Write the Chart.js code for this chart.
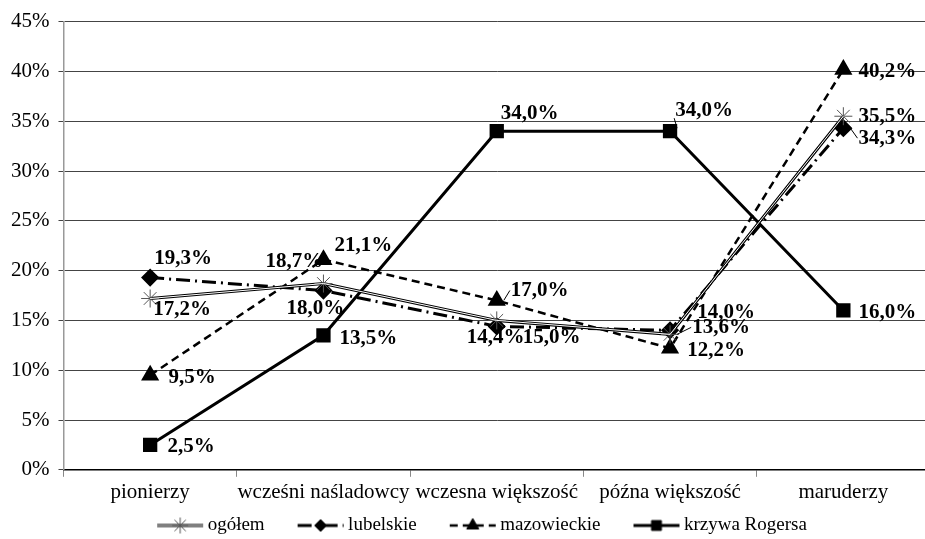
<!DOCTYPE html>
<html lang="pl">
<head>
    <meta charset="UTF-8">
    <title>Krzywa Rogersa</title>
    <script src="https://cdn.jsdelivr.net/npm/chart.js"></script>
    <style>
        body {
            margin: 0;
            background: #fff;
            overflow: hidden;
        }
        canvas {
            display: block;
        }
    </style>
</head>
<body>
    <canvas id="chart" width="941" height="545"></canvas>

    <script>
        const categories = ['pionierzy', 'wcześni naśladowcy', 'wczesna większość', 'późna większość', 'maruderzy'];
        const yTicks = [0, 5, 10, 15, 20, 25, 30, 35, 40, 45];

        const ogolem = [17.2, 18.7, 15.0, 13.6, 35.5];
        const lubelskie = [19.3, 18.0, 14.4, 14.0, 34.3];
        const mazowieckie = [9.5, 21.1, 17.0, 12.2, 40.2];
        const rogers = [2.5, 13.5, 34.0, 34.0, 16.0];

        // where each value label sits relative to its point: [dx, dy, leader line]
        const labelPos = {
            'ogółem': [[32, 11], [-29, -22], [55, 17], [51, -7, true], [44, 0]],
            'lubelskie': [[33, -19], [-8, 18], [-1, 11], [56, -18], [44, 10, true]],
            'mazowieckie': [[42, 2], [40, -14], [43, -10, true], [46, 2], [44, 2]],
            'krzywa Rogersa': [[41, 2], [45, 3], [33, -18], [34, -21, true], [44, 2]]
        };

        const serif = "'Liberation Serif', 'Times New Roman', serif";

        const series = [
            { label: 'ogółem', data: ogolem, borderColor: '#000', borderWidth: 3, borderDash: [],
              pointStyle: 'star', pointRadius: 9, pointBorderColor: '#555', pointBorderWidth: 1, order: 1 },
            { label: 'lubelskie', data: lubelskie, borderColor: '#000', borderWidth: 3, borderDash: [14, 5, 2, 5],
              pointStyle: 'rectRot', pointRadius: 7, pointBorderColor: '#000', pointBackgroundColor: '#000', order: 2 },
            { label: 'mazowieckie', data: mazowieckie, borderColor: '#000', borderWidth: 2.5, borderDash: [8, 5],
              pointStyle: 'triangle', pointRadius: 8, pointBorderColor: '#000', pointBackgroundColor: '#000', order: 3 },
            { label: 'krzywa Rogersa', data: rogers, borderColor: '#000', borderWidth: 3, borderDash: [],
              pointStyle: 'rect', pointRadius: 8, pointBorderColor: '#000', pointBackgroundColor: '#000', order: 4 }
        ];

        // white core line to make "ogółem" a double line
        const overlay = {
            label: '_core', data: ogolem, borderColor: '#fff', borderWidth: 1,
            pointRadius: 0, order: 0
        };

        // legend sample: blank on the left (spacing), line + marker on the right
        function legendIcon(ds) {
            const c = document.createElement('canvas');
            c.width = 82;
            c.height = 18;
            const g = c.getContext('2d');
            const x0 = 33, x1 = 79, mid = 56;
            g.strokeStyle = '#000';
            g.lineWidth = ds.borderWidth;
            g.setLineDash(ds.borderDash);
            g.beginPath();
            g.moveTo(x0, 9);
            g.lineTo(x1, 9);
            g.stroke();
            if (ds.label === 'ogółem') {
                g.strokeStyle = '#fff';
                g.lineWidth = 1;
                g.beginPath();
                g.moveTo(x0, 9);
                g.lineTo(x1, 9);
                g.stroke();
            }
            g.setLineDash([]);
            g.fillStyle = ds.pointBackgroundColor || '#fff';
            g.strokeStyle = ds.pointBorderColor;
            g.lineWidth = ds.pointBorderWidth || 1;
            Chart.helpers.drawPoint(g, {
                pointStyle: ds.pointStyle,
                radius: ds.pointRadius - 1,
                rotation: 0,
                borderWidth: g.lineWidth
            }, mid, 9);
            return c;
        }

        const icons = series.map(legendIcon);

        function fmt(v) {
            return v.toFixed(1).replace('.', ',') + '%';
        }

        const valueLabels = {
            id: 'valueLabels',
            afterDatasetsDraw(chart) {
                const ctx = chart.ctx;
                ctx.save();
                ctx.font = 'bold 21px ' + serif;
                ctx.fillStyle = '#000';
                ctx.textAlign = 'center';
                ctx.textBaseline = 'middle';
                chart.data.datasets.forEach((ds, i) => {
                    const pos = labelPos[ds.label];
                    if (!pos) return;
                    chart.getDatasetMeta(i).data.forEach((pt, j) => {
                        const p = pos[j];
                        const cx = pt.x + p[0];
                        const cy = pt.y + p[1];
                        const text = fmt(ds.data[j]);
                        if (p[2]) {
                            const w = ctx.measureText(text).width;
                            ctx.strokeStyle = '#000';
                            ctx.lineWidth = 1;
                            ctx.beginPath();
                            ctx.moveTo(pt.x + 7, pt.y - (p[1] < -12 ? 3 : 0));
                            ctx.lineTo(cx - w / 2 - 1, cy + (p[1] < -12 ? 8 : 0));
                            ctx.stroke();
                        }
                        ctx.fillText(text, cx, cy);
                    });
                });
                ctx.restore();
            }
        };

        new Chart(document.getElementById('chart'), {
            type: 'line',
            data: {
                labels: categories,
                datasets: series.map(s => Object.assign({ fill: false, tension: 0 }, s)).concat([overlay])
            },
            options: {
                responsive: false,
                animation: false,
                layout: { padding: { top: 12, right: 4, left: 2, bottom: 0 } },
                plugins: {
                    tooltip: { enabled: false },
                    legend: {
                        position: 'bottom',
                        labels: {
                            usePointStyle: true,
                            pointStyleWidth: 66,
                            boxHeight: 16,
                            padding: 8,
                            color: '#000',
                            font: { family: serif, size: 19 },
                            generateLabels(chart) {
                                return series.map((s, i) => ({
                                    text: s.label,
                                    pointStyle: icons[i],
                                    datasetIndex: i,
                                    hidden: false,
                                    fontColor: '#000',
                                    lineWidth: 0
                                }));
                            }
                        }
                    }
                },
                scales: {
                    x: {
                        offset: true,
                        grid: { offset: true, drawOnChartArea: false, drawTicks: true, tickLength: 7, color: '#888' },
                        border: { color: '#000', width: 1.5 },
                        ticks: { color: '#000', font: { family: serif, size: 21 }, padding: 3, maxRotation: 0, autoSkip: false }
                    },
                    y: {
                        min: yTicks[0],
                        max: yTicks[yTicks.length - 1],
                        afterBuildTicks(axis) {
                            axis.ticks = yTicks.map(v => ({ value: v }));
                        },
                        grid: { color: '#444', tickLength: 5 },
                        border: { color: '#999', width: 1.5 },
                        ticks: {
                            color: '#000',
                            font: { family: serif, size: 21 },
                            padding: 9,
                            callback: v => v + '%'
                        }
                    }
                }
            },
            plugins: [valueLabels]
        });
    </script>
</body>
</html>
